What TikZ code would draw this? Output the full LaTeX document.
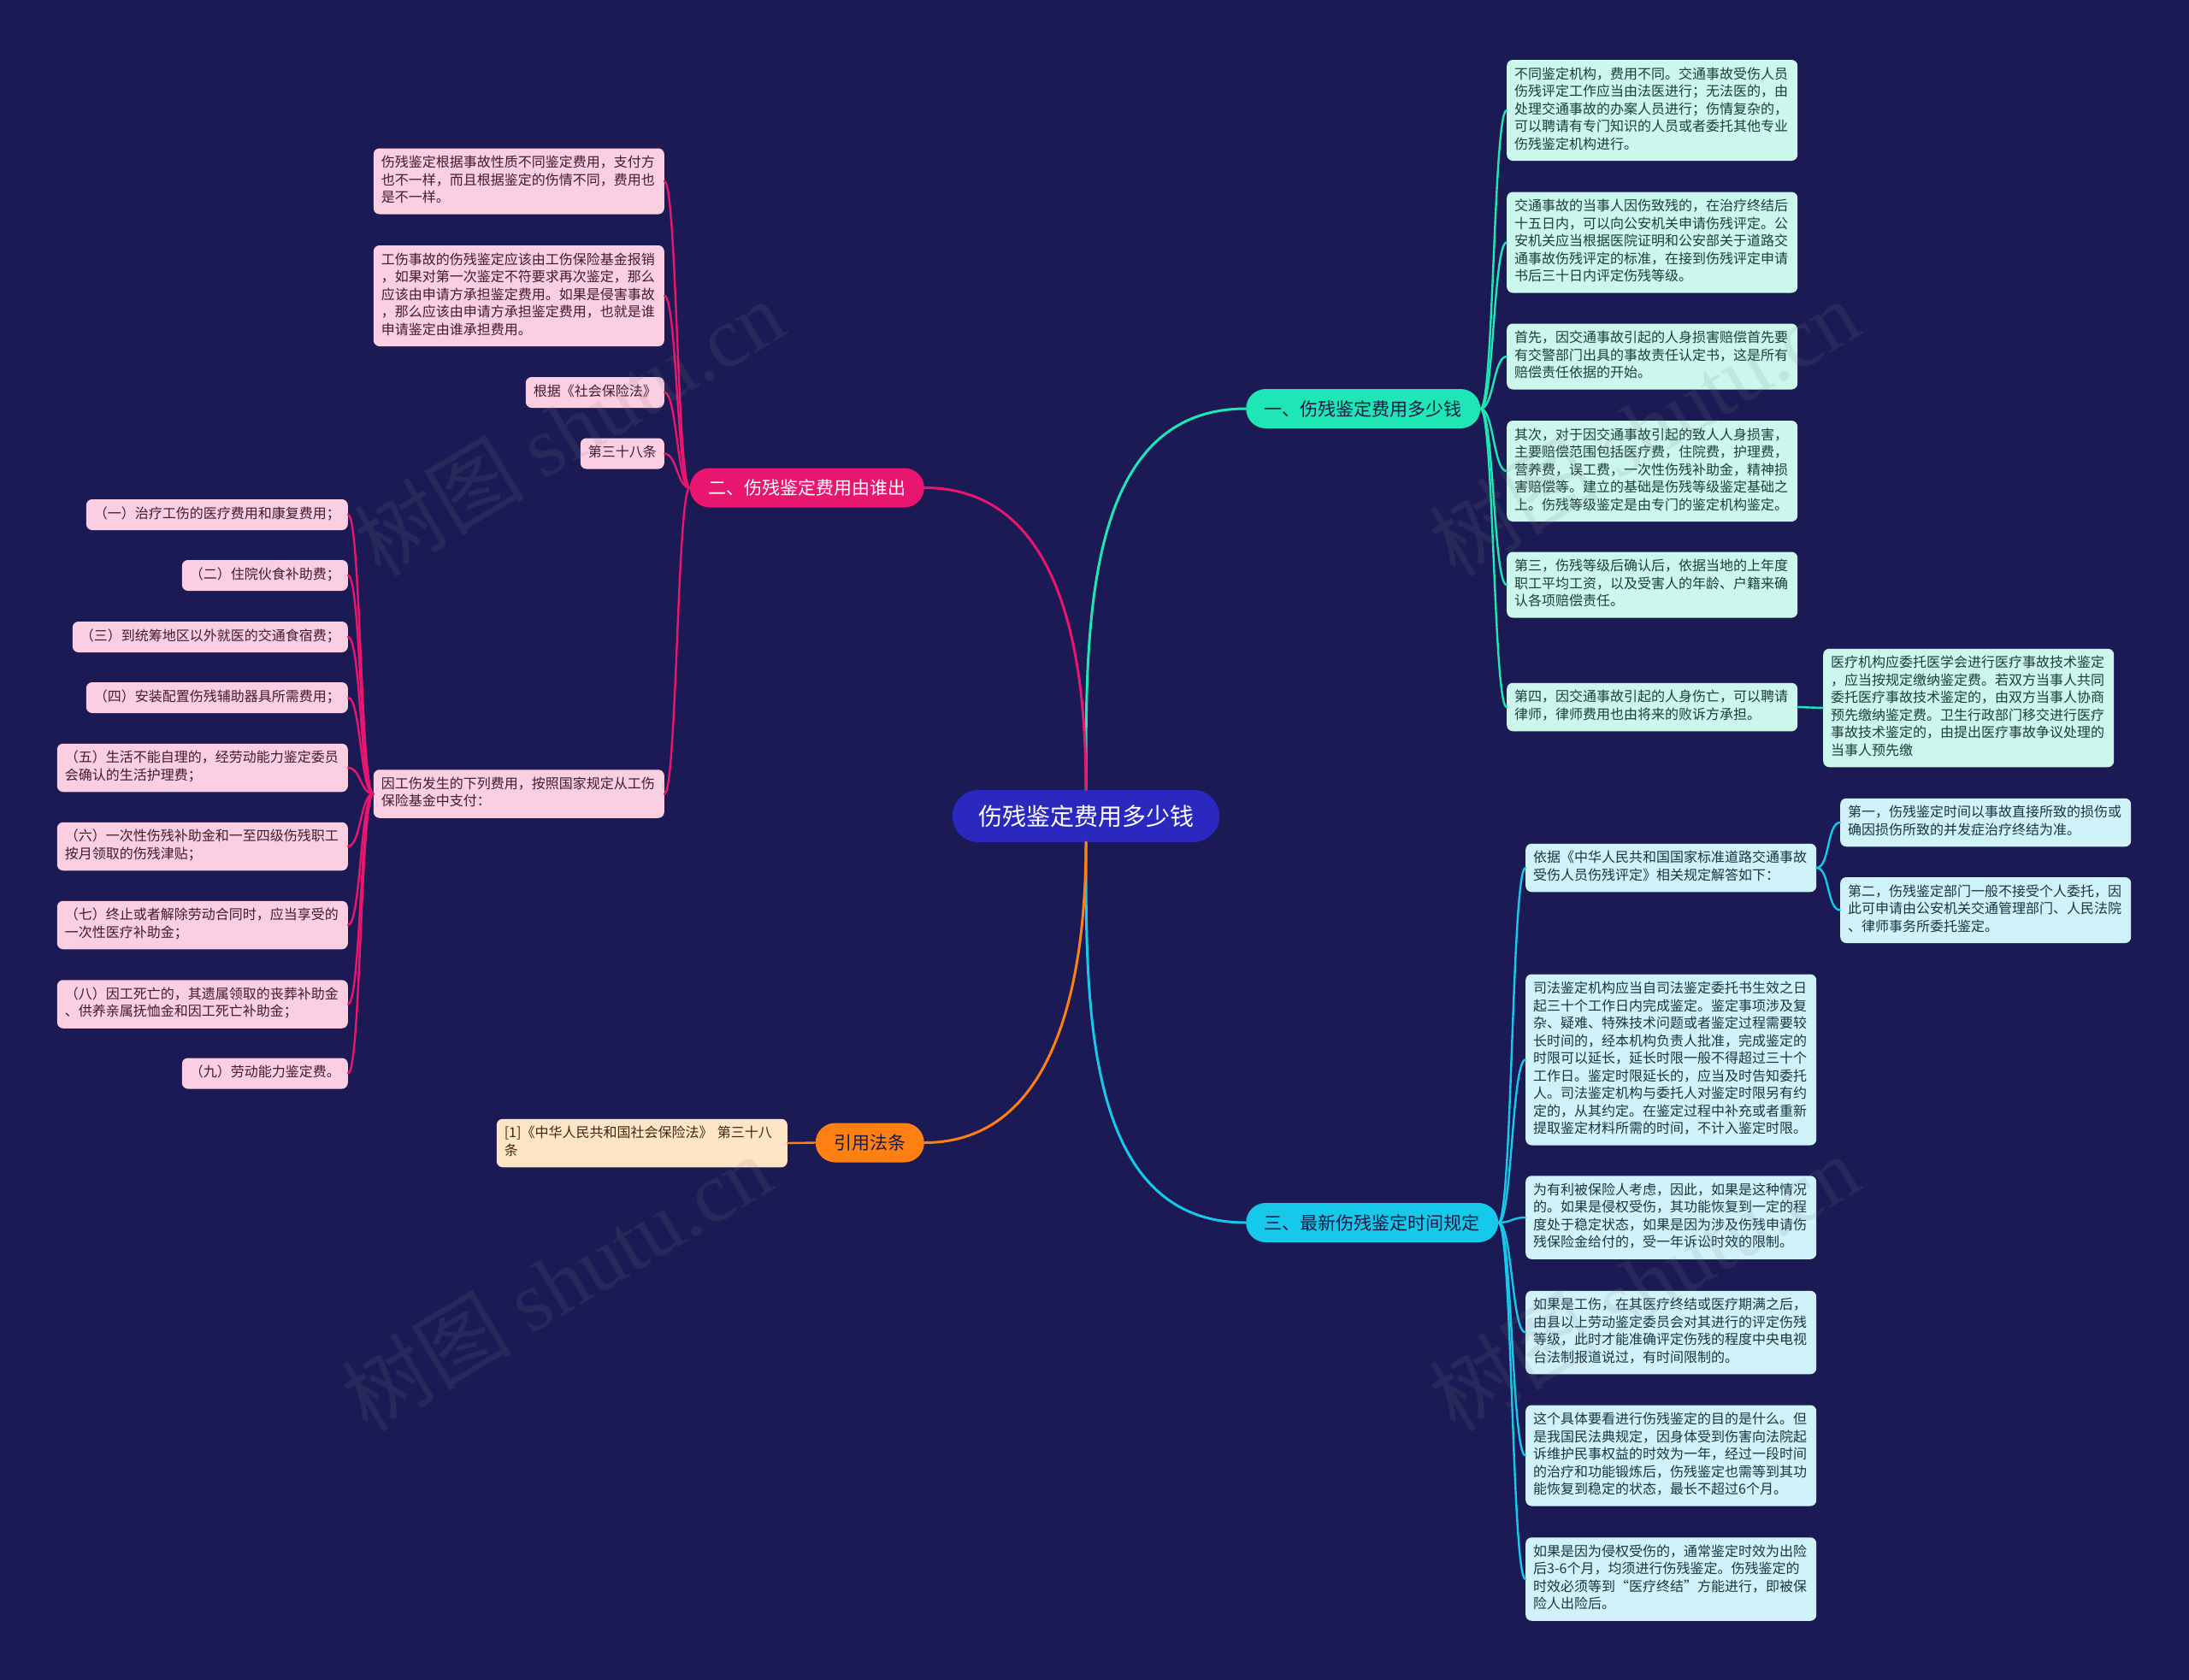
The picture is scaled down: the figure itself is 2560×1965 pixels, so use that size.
\documentclass[tikz,border=0pt]{standalone}
\usepackage{fontspec}
\setmainfont{Noto Sans CJK SC}
\newfontfamily\wmfont{Liberation Serif}
\definecolor{bg}{RGB}{27,26,84}
\definecolor{cfill}{RGB}{42,40,190}
\definecolor{c1}{RGB}{30,230,180}
\definecolor{c2}{RGB}{232,22,110}
\definecolor{c3}{RGB}{22,200,234}
\definecolor{c4}{RGB}{255,128,18}
\definecolor{f1}{RGB}{204,247,236}
\definecolor{f2}{RGB}{251,206,226}
\definecolor{f3}{RGB}{208,243,250}
\definecolor{f4}{RGB}{255,229,198}
\definecolor{t1}{RGB}{28,62,54}
\definecolor{t2}{RGB}{62,30,44}
\definecolor{t3}{RGB}{26,52,70}
\definecolor{t4}{RGB}{60,40,20}
\definecolor{dk}{RGB}{22,26,70}
\tikzset{
  tbox/.style={rounded corners=7pt, inner xsep=9pt, inner ysep=7.75pt,
    font=\fontsize{16}{20.5}\selectfont, align=left,
    execute at begin node=\strut, execute at end node=\strut},
  wide/.style={text width=322pt},
  mint/.style={tbox, fill=f1, text=t1},
  pink/.style={tbox, fill=f2, text=t2},
  cyanb/.style={tbox, fill=f3, text=t3},
  peach/.style={tbox, fill=f4, text=t4},
  branch/.style={rounded corners=23pt, minimum height=46pt, inner xsep=21.5pt,
    inner ysep=0pt, font=\fontsize{21}{25}\selectfont},
  rootnode/.style={rounded corners=30pt, minimum height=61pt, minimum width=312pt,
    fill=cfill, text=white, font=\fontsize{28}{32}\selectfont},
  main/.style={line width=3pt, line cap=round},
  sub/.style={line width=2.4pt, line cap=round},
  wm/.style={font=\fontsize{100}{110}\selectfont, text=gray, opacity=0.14}
}
\begin{document}
\begin{tikzpicture}[x=1pt,y=-1pt]
\fill[bg] (0,0) rectangle (2560,1965);
\useasboundingbox (0,0) rectangle (2560,1965);

% root
\node[rootnode] (root) at (1270,954.5) {伤残鉴定费用多少钱};

% branches
\node[branch, fill=c1, text=dk, anchor=west] (b1) at (1457,478) {一、伤残鉴定费用多少钱};
\node[branch, fill=c2, text=white, anchor=east] (b2) at (1081,570.5) {二、伤残鉴定费用由谁出};
\node[branch, fill=c3, text=dk, anchor=west] (b3) at (1457,1430) {三、最新伤残鉴定时间规定};
\node[branch, fill=c4, text=dk, anchor=east] (b4) at (1081,1336.5) {引用法条};

% branch 1 children
\node[mint, wide, anchor=west] (n1) at (1762,129) {不同鉴定机构，费用不同。交通事故受伤人员\\伤残评定工作应当由法医进行；无法医的，由\\处理交通事故的办案人员进行；伤情复杂的，\\可以聘请有专门知识的人员或者委托其他专业\\伤残鉴定机构进行。};
\node[mint, wide, anchor=west] (n2) at (1762,283.5) {交通事故的当事人因伤致残的，在治疗终结后\\十五日内，可以向公安机关申请伤残评定。公\\安机关应当根据医院证明和公安部关于道路交\\通事故伤残评定的标准，在接到伤残评定申请\\书后三十日内评定伤残等级。};
\node[mint, wide, anchor=west] (n3) at (1762,417) {首先，因交通事故引起的人身损害赔偿首先要\\有交警部门出具的事故责任认定书，这是所有\\赔偿责任依据的开始。};
\node[mint, wide, anchor=west] (n4) at (1762,551) {其次，对于因交通事故引起的致人人身损害，\\主要赔偿范围包括医疗费，住院费，护理费，\\营养费，误工费，一次性伤残补助金，精神损\\害赔偿等。建立的基础是伤残等级鉴定基础之\\上。伤残等级鉴定是由专门的鉴定机构鉴定。};
\node[mint, wide, anchor=west] (n5) at (1762,684) {第三，伤残等级后确认后，依据当地的上年度\\职工平均工资，以及受害人的年龄、户籍来确\\认各项赔偿责任。};
\node[mint, wide, anchor=west] (n6) at (1762,827) {第四，因交通事故引起的人身伤亡，可以聘请\\律师，律师费用也由将来的败诉方承担。};
\node[mint, wide, anchor=west] (n7) at (2132,828) {医疗机构应委托医学会进行医疗事故技术鉴定\\，应当按规定缴纳鉴定费。若双方当事人共同\\委托医疗事故技术鉴定的，由双方当事人协商\\预先缴纳鉴定费。卫生行政部门移交进行医疗\\事故技术鉴定的，由提出医疗事故争议处理的\\当事人预先缴};

% branch 2 children
\node[pink, wide, anchor=east] (p1) at (777,212) {伤残鉴定根据事故性质不同鉴定费用，支付方\\也不一样，而且根据鉴定的伤情不同，费用也\\是不一样。};
\node[pink, wide, anchor=east] (p2) at (777,346) {工伤事故的伤残鉴定应该由工伤保险基金报销\\，如果对第一次鉴定不符要求再次鉴定，那么\\应该由申请方承担鉴定费用。如果是侵害事故\\，那么应该由申请方承担鉴定费用，也就是谁\\申请鉴定由谁承担费用。};
\node[pink, anchor=east] (p3) at (777,459) {根据《社会保险法》};
\node[pink, anchor=east] (p4) at (777,530.5) {第三十八条};
\node[pink, wide, anchor=east] (p5) at (777,928.5) {因工伤发生的下列费用，按照国家规定从工伤\\保险基金中支付：};

% list children
\node[pink, anchor=east] (q1) at (407,602) {（一）治疗工伤的医疗费用和康复费用；};
\node[pink, anchor=east] (q2) at (407,673) {（二）住院伙食补助费；};
\node[pink, anchor=east] (q3) at (407,745) {（三）到统筹地区以外就医的交通食宿费；};
\node[pink, anchor=east] (q4) at (407,816) {（四）安装配置伤残辅助器具所需费用；};
\node[pink, wide, anchor=east] (q5) at (407,898) {（五）生活不能自理的，经劳动能力鉴定委员\\会确认的生活护理费；};
\node[pink, wide, anchor=east] (q6) at (407,990) {（六）一次性伤残补助金和一至四级伤残职工\\按月领取的伤残津贴；};
\node[pink, wide, anchor=east] (q7) at (407,1082) {（七）终止或者解除劳动合同时，应当享受的\\一次性医疗补助金；};
\node[pink, wide, anchor=east] (q8) at (407,1174.5) {（八）因工死亡的，其遗属领取的丧葬补助金\\、供养亲属抚恤金和因工死亡补助金；};
\node[pink, anchor=east] (q9) at (407,1255.5) {（九）劳动能力鉴定费。};

% branch 3 children
\node[cyanb, wide, anchor=west] (s1) at (1784,1015) {依据《中华人民共和国国家标准道路交通事故\\受伤人员伤残评定》相关规定解答如下：};
\node[cyanb, wide, anchor=west] (s1a) at (2152,962) {第一，伤残鉴定时间以事故直接所致的损伤或\\确因损伤所致的并发症治疗终结为准。};
\node[cyanb, wide, anchor=west] (s1b) at (2152,1064.5) {第二，伤残鉴定部门一般不接受个人委托，因\\此可申请由公安机关交通管理部门、人民法院\\、律师事务所委托鉴定。};
\node[cyanb, wide, anchor=west] (s2) at (1784,1239.5) {司法鉴定机构应当自司法鉴定委托书生效之日\\起三十个工作日内完成鉴定。鉴定事项涉及复\\杂、疑难、特殊技术问题或者鉴定过程需要较\\长时间的，经本机构负责人批准，完成鉴定的\\时限可以延长，延长时限一般不得超过三十个\\工作日。鉴定时限延长的，应当及时告知委托\\人。司法鉴定机构与委托人对鉴定时限另有约\\定的，从其约定。在鉴定过程中补充或者重新\\提取鉴定材料所需的时间，不计入鉴定时限。};
\node[cyanb, wide, anchor=west] (s3) at (1784,1424) {为有利被保险人考虑，因此，如果是这种情况\\的。如果是侵权受伤，其功能恢复到一定的程\\度处于稳定状态，如果是因为涉及伤残申请伤\\残保险金给付的，受一年诉讼时效的限制。};
\node[cyanb, wide, anchor=west] (s4) at (1784,1558.5) {如果是工伤，在其医疗终结或医疗期满之后，\\由县以上劳动鉴定委员会对其进行的评定伤残\\等级，此时才能准确评定伤残的程度中央电视\\台法制报道说过，有时间限制的。};
\node[cyanb, wide, anchor=west] (s5) at (1784,1702.5) {这个具体要看进行伤残鉴定的目的是什么。但\\是我国民法典规定，因身体受到伤害向法院起\\诉维护民事权益的时效为一年，经过一段时间\\的治疗和功能锻炼后，伤残鉴定也需等到其功\\能恢复到稳定的状态，最长不超过6个月。};
\node[cyanb, wide, anchor=west] (s6) at (1784,1847) {如果是因为侵权受伤的，通常鉴定时效为出险\\后3-6个月，均须进行伤残鉴定。伤残鉴定的\\时效必须等到“医疗终结”方能进行，即被保\\险人出险后。};

% branch 4 child
\node[peach, wide, anchor=east] (r1) at (921,1337) {[1]《中华人民共和国社会保险法》 第三十八\\条};

% main connectors
\draw[main, c1] (root.north) .. controls +(0,-190) and +(-190,0) .. (b1.west);
\draw[main, c2] (root.north) .. controls +(0,-160) and +(160,0) .. (b2.east);
\draw[main, c3] (root.south) .. controls +(0,190) and +(-190,0) .. (b3.west);
\draw[main, c4] (root.south) .. controls +(0,156) and +(156,0) .. (b4.east);

% branch 1 connectors
\foreach \n in {n1,n2,n3,n4,n5,n6}
  \draw[sub, c1] (b1.east) .. controls +(15.5,0) and +(-15.5,0) .. (\n.west);
\draw[sub, c1] (n6.east) .. controls +(15,0) and +(-15,0) .. (n7.west);

% branch 2 connectors
\foreach \n in {p1,p2,p3,p4,p5}
  \draw[sub, c2] (b2.west) .. controls +(-14.5,0) and +(14.5,0) .. (\n.east);
\foreach \n in {q1,q2,q3,q4,q5,q6,q7,q8,q9}
  \draw[sub, c2] (p5.west) .. controls +(-15,0) and +(15,0) .. (\n.east);

% branch 3 connectors
\foreach \n in {s1,s2,s3,s4,s5,s6}
  \draw[sub, c3] (b3.east) .. controls +(16,0) and +(-16,0) .. (\n.west);
\foreach \n in {s1a,s1b}
  \draw[sub, c3] (s1.east) .. controls +(15.5,0) and +(-15.5,0) .. (\n.west);

% branch 4 connector
\draw[sub, c4] (b4.west) -- (r1.east);

% watermark
\node[wm, rotate=31] (w1) at (665,500) {树图 {\wmfont shutu.cn}};
\node[wm, rotate=31] (w2) at (1922,500) {树图 {\wmfont shutu.cn}};
\node[wm, rotate=31] (w3) at (650,1500) {树图 {\wmfont shutu.cn}};
\node[wm, rotate=31] (w4) at (1922,1500) {树图 {\wmfont shutu.cn}};
\end{tikzpicture}
\end{document}
